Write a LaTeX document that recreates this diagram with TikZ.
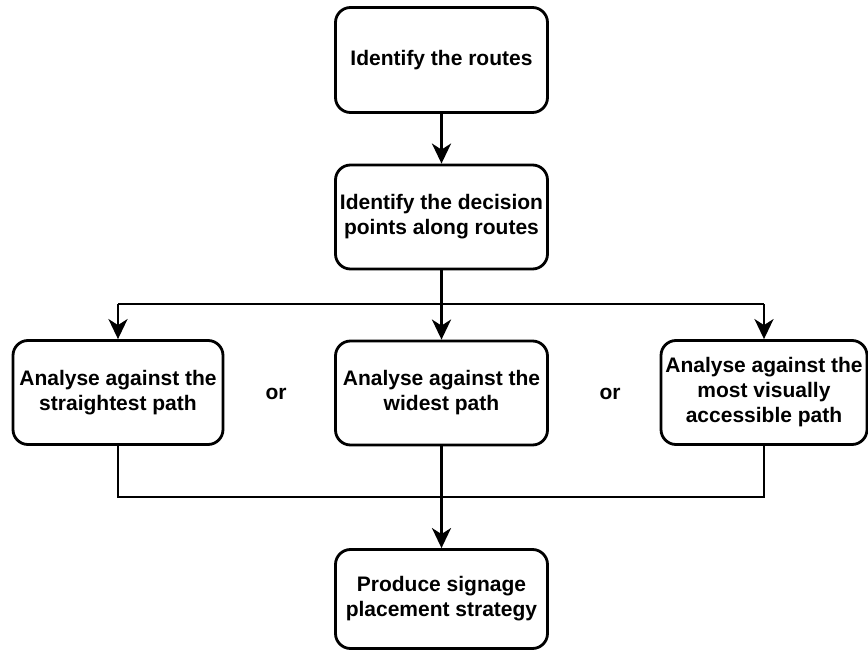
\documentclass[tikz,border=0pt]{standalone}
\usepackage{fontspec}
\setmainfont{Liberation Sans}
\usetikzlibrary{arrows.meta}
\begin{document}
\begin{tikzpicture}[x=1pt,y=-1pt,
  box/.style={draw, line width=2.8pt, rounded corners=15pt, align=center,
    font=\fontsize{21}{25}\selectfont\bfseries, inner sep=0pt},
  conn/.style={line width=2.8pt},
  arr/.style={conn, -{Stealth[length=20pt,width=19pt,inset=6pt]}},
  lbl/.style={font=\fontsize{21}{25}\selectfont\bfseries}]
\useasboundingbox (0,0) rectangle (868,653);
\node[box, minimum width=212pt, minimum height=105pt] (b1) at (441.5,60) {Identify the routes};
\node[box, minimum width=212pt, minimum height=104pt] (b2) at (441.5,217) {Identify the decision\\points along routes};
\node[box, minimum width=210pt, minimum height=104pt] (l) at (118,392.5) {Analyse against the\\straightest path};
\node[box, minimum width=212pt, minimum height=104pt] (m) at (441.5,393) {Analyse against the\\widest path};
\node[box, minimum width=206pt, minimum height=104pt] (r) at (764,392.5) {Analyse against the\\most visually\\accessible path};
\node[box, minimum width=212pt, minimum height=99pt] (p) at (441.5,599) {Produce signage\\placement strategy};
\node[lbl] (or1) at (276,394) {or};
\node[lbl] (or2) at (610,394) {or};
\coordinate (split) at (441.5,304);
\coordinate (join) at (441.5,497);
\draw[arr] (b1) -- (b2);
\draw[conn] (b2.south) -- (split);
\draw[conn] (l.north |- split) -- (r.north |- split);
\draw[arr] (l.north |- split) -- (l.north);
\draw[arr] (split) -- (m.north);
\draw[arr] (r.north |- split) -- (r.north);
\draw[conn] (l.south) |- (join) -| (r.south);
\draw[arr] (m.south) -- (p.north);
\end{tikzpicture}
\end{document}
